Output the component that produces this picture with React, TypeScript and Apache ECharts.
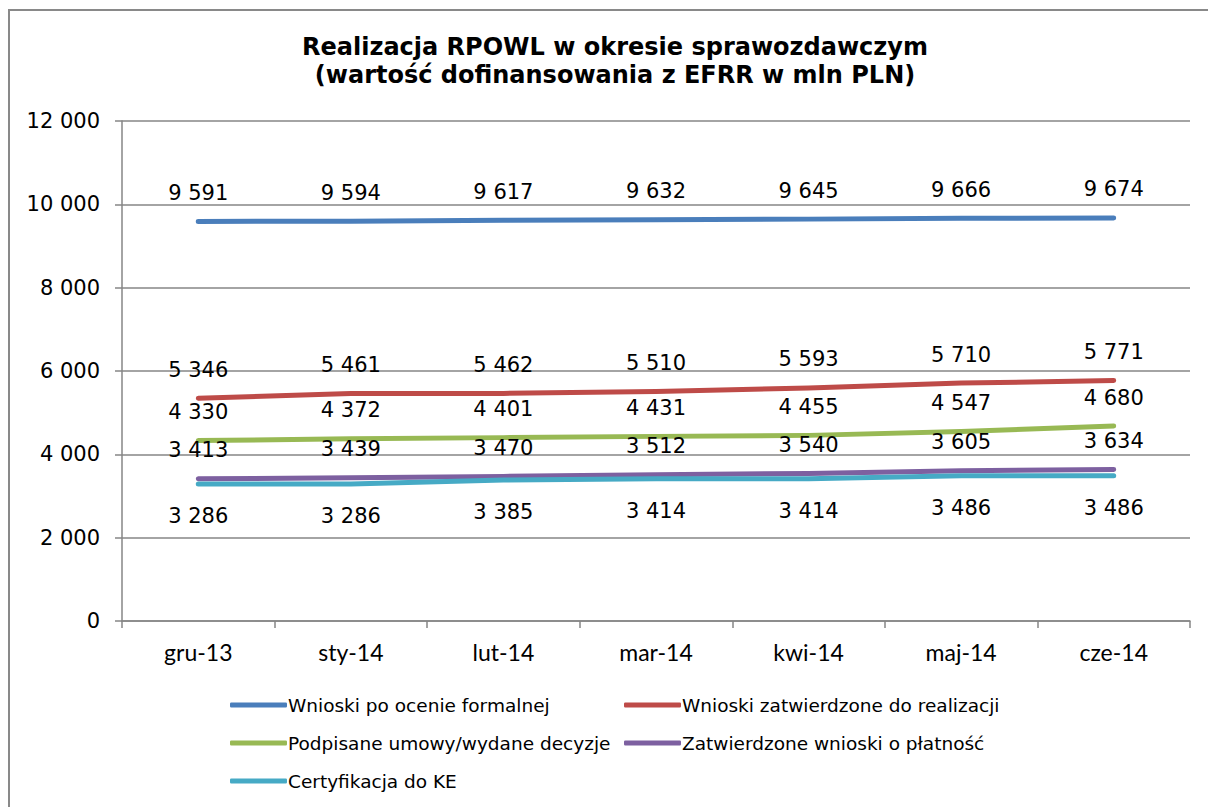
import React, { useEffect, useRef } from "react";
import * as echarts from "echarts";

const categories = ["gru-13", "sty-14", "lut-14", "mar-14", "kwi-14", "maj-14", "cze-14"];
const seriesNames = [
  "Wnioski po ocenie formalnej",
  "Wnioski zatwierdzone do realizacji",
  "Podpisane umowy/wydane decyzje",
  "Zatwierdzone wnioski o płatność",
  "Certyfikacja do KE",
];
const wnioskiOcena = [9591, 9594, 9617, 9632, 9645, 9666, 9674];
const wnioskiZatwierdzone = [5346, 5461, 5462, 5510, 5593, 5710, 5771];
const podpisaneUmowy = [4330, 4372, 4401, 4431, 4455, 4547, 4680];
const wnioskiPlatnosc = [3413, 3439, 3470, 3512, 3540, 3605, 3634];
const certyfikacja = [3286, 3286, 3385, 3414, 3414, 3486, 3486];
const colors = ["#4A7EBB", "#BE4B48", "#98B954", "#7D60A0", "#46AAC5"];
const labelPositions = ["top", "top", "top", "top", "bottom"];

const fmt = (v: number) => {
  const s = String(Math.round(v));
  return s.replace(/\B(?=(\d{3})+(?!\d))/g, " ");
};

export default function App() {
  const ref = useRef<HTMLDivElement>(null);
  useEffect(() => {
    if (!ref.current) return;
    const chart = echarts.init(ref.current, null, { renderer: "svg" });
    const allData = [wnioskiOcena, wnioskiZatwierdzone, podpisaneUmowy, wnioskiPlatnosc, certyfikacja];
    const legendText = { fontFamily: "DejaVu Sans", fontSize: 18.5, lineHeight: 20, color: "#000", padding: [0, 0, 0, -4] };
    chart.setOption({
      animation: false,
      backgroundColor: "#ffffff",
      title: {
        text: "Realizacja RPOWL w okresie sprawozdawczym\n(wartość dofinansowania z EFRR w mln PLN)",
        left: 615,
        top: 33,
        padding: 0,
        textAlign: "center",
        textStyle: {
          fontFamily: "DejaVu Sans",
          fontWeight: "bold",
          fontSize: 24,
          lineHeight: 28,
          color: "#000",
        },
      },
      graphic: [
        {
          type: "rect",
          shape: { x: 9, y: 10, width: 1300, height: 900 },
          style: { fill: "none", stroke: "#898989", lineWidth: 2 },
          silent: true,
        },
      ],
      legend: [
        {
          orient: "vertical",
          left: 230,
          top: 695,
          padding: 0,
          itemWidth: 57,
          itemHeight: 5,
          itemGap: 18,
          icon: "roundRect",
          data: [seriesNames[0], seriesNames[2], seriesNames[4]],
          textStyle: legendText,
        },
        {
          orient: "vertical",
          left: 624,
          top: 695,
          padding: 0,
          itemWidth: 57,
          itemHeight: 5,
          itemGap: 18,
          icon: "roundRect",
          data: [seriesNames[1], seriesNames[3]],
          textStyle: legendText,
        },
      ],
      grid: { left: 122, top: 121, right: 18, bottom: 186, containLabel: false },
      xAxis: {
        type: "category",
        data: categories,
        boundaryGap: true,
        axisLine: { lineStyle: { color: "#868686", width: 1.5 } },
        axisTick: { show: true, length: 7, lineStyle: { color: "#868686", width: 1.5 } },
        axisLabel: { fontFamily: "Lato", fontSize: 23, color: "#000", margin: 19 },
      },
      yAxis: {
        type: "value",
        min: 0,
        max: 12000,
        interval: 2000,
        axisLine: { show: true, lineStyle: { color: "#868686", width: 1.5 } },
        axisTick: { show: true, length: 7, lineStyle: { color: "#868686", width: 1.5 } },
        splitLine: { lineStyle: { color: "#868686", width: 1.5 } },
        axisLabel: { fontFamily: "DejaVu Sans", fontSize: 21, color: "#000", margin: 22, formatter: (v: number) => fmt(v) },
      },
      series: seriesNames.map((name, i) => ({
        name,
        type: "line",
        data: allData[i],
        symbol: "circle",
        symbolSize: 1,
        showSymbol: true,
        color: colors[i],
        lineStyle: { width: 5, color: colors[i], cap: "round", join: "round" },
        itemStyle: { color: colors[i] },
        label: {
          show: true,
          position: labelPositions[i],
          distance: i === 4 ? 21 : 17.5,
          fontFamily: "DejaVu Sans",
          fontSize: 21,
          color: "#000",
          formatter: (p: any) => fmt(p.value),
        },
        emphasis: { disabled: true },
      })),
    });
    return () => chart.dispose();
  }, []);
  return (
    <div
      ref={ref}
      style={{ position: "fixed", left: 0, top: 0, width: 1208, height: 807, background: "#fff" }}
    />
  );
}
